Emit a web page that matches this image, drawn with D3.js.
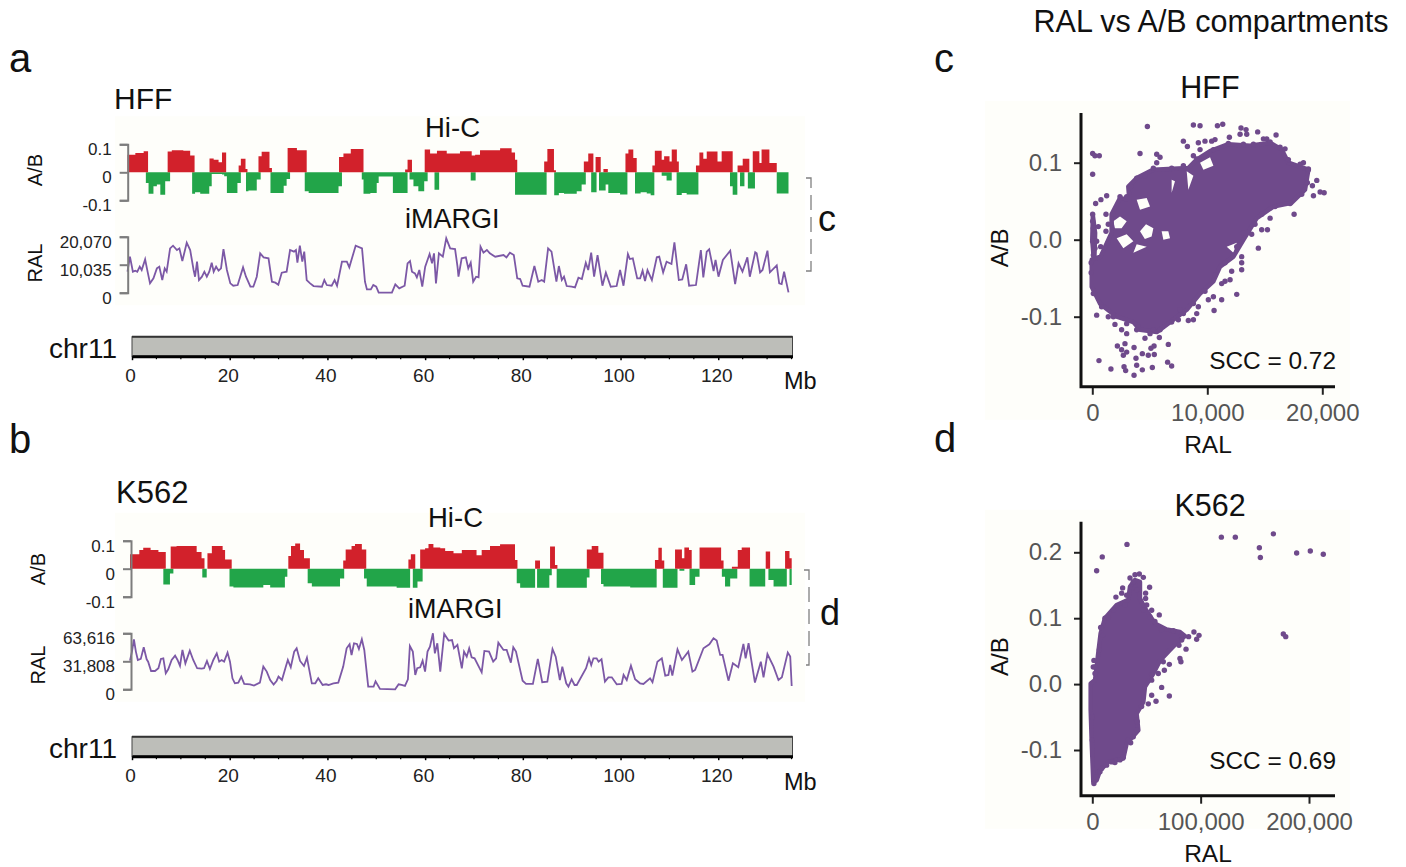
<!DOCTYPE html>
<html>
<head>
<meta charset="utf-8">
<script src="https://cdn.jsdelivr.net/npm/d3@7"></script>
<style>
    html, body { margin: 0; padding: 0; background: #ffffff; }
    svg { display: block; font-family: "Liberation Sans", sans-serif; }
</style>
</head>
<body>
<div id="chart"></div>
<script>
// Values. Hi-C tracks are step series: each value holds until the next edge.
var chrTicks = [0, 20, 40, 60, 80, 100, 120];
var chrMinorTicks = [5, 10, 15, 25, 30, 35, 45, 50, 55, 65, 70, 75, 85, 90, 95, 105, 110, 115, 125, 130, 135];
var abTicks = [-0.1, 0, 0.1];

var hffRedMb = [0, 1.6, 3.3, 4.2, 8.2, 9.05, 11.4, 12.8, 13.7, 16.75, 17.6, 18.6, 19.3, 20.15, 22.7, 23.15, 24.1, 24.5, 26.75, 27.4, 29.0, 29.5, 32.7, 34.6, 36.6, 43.2, 44.1, 45.6, 48.2, 56.7, 57.2, 58.1, 60.7, 61.8, 63.2, 65.2, 67.9, 70.3, 71.0, 72.0, 76.1, 78.45, 79.15, 79.6, 85.1, 85.75, 87.1, 87.5, 93.2, 94.1, 95.15, 95.6, 96.65, 97.2, 98.1, 101.7, 102.3, 103.3, 104.0, 107.2, 107.7, 109.1, 109.6, 110.7, 111.15, 112.2, 112.6, 116.1, 116.8, 117.6, 118.3, 120.5, 121.35, 123.6, 124.6, 125.65, 127.0, 127.7, 129.05, 129.5, 131.1, 132.6];
var hffRedAb = [.063, .069, .075, 0, .074, .079, .077, .060, 0, .049, .045, .036, .071, 0, .024, .048, .012, 0, .057, .073, .015, 0, .087, .079, 0, .055, .067, .083, 0, .010, .045, 0, .081, .067, .077, .067, .075, .060, .063, .079, .086, .071, .045, 0, .039, .083, .007, 0, .039, .067, 0, .055, 0, .012, 0, .067, .081, .051, 0, .024, .077, .045, .057, .039, .081, .039, 0, .024, .071, .048, .074, .039, .075, 0, .024, .048, 0, .075, .033, .081, .033, 0];
var hffGreenMb = [3.75, 4.3, 5.3, 6.0, 6.7, 7.7, 8.7, 13.2, 13.8, 14.85, 16.7, 17.2, 19.3, 19.75, 20.3, 22.45, 23.15, 24.2, 24.7, 26.4, 27.2, 29.2, 31.9, 32.5, 33.2, 36.2, 37.0, 43.1, 43.8, 47.85, 48.2, 49.6, 50.9, 51.3, 54.2, 57.2, 57.6, 58.4, 59.4, 60.6, 61.3, 62.7, 63.65, 70.1, 71.1, 79.15, 85.6, 87.15, 88.1, 89.15, 91.75, 92.75, 93.6, 94.7, 95.8, 96.3, 97.65, 98.2, 100.6, 102.1, 103.65, 104.8, 106.05, 106.85, 107.6, 109.1, 110.1, 111.15, 112.15, 113.2, 114.2, 116.6, 123.05, 123.6, 124.55, 125.1, 126.0, 126.7, 128.15, 132.6, 135];
var hffGreenAb = [-.038, -.077, -.050, -.044, -.080, -.032, 0, -.077, -.071, -.077, -.050, -.006, -.008, -.014, -.074, -.038, 0, -.068, -.065, -.026, 0, -.074, -.048, -.024, 0, -.068, -.074, -.050, 0, -.026, -.077, -.074, -.038, -.015, -.074, 0, -.026, -.050, -.068, -.032, 0, -.062, 0, -.029, 0, -.080, 0, -.082, -.074, -.077, -.068, -.044, 0, -.071, 0, -.065, -.044, -.074, -.079, 0, -.076, -.071, -.076, -.082, 0, -.012, -.029, 0, -.081, -.074, -.079, 0, -.050, -.080, 0, -.050, 0, -.058, 0, -.076, 0];

var k562RedMb = [0, 1.9, 2.7, 4.2, 5.8, 7.3, 8.3, 9.5, 13.6, 14.6, 15.2, 15.8, 16.7, 18.9, 19.4, 20.75, 32.3, 32.85, 33.7, 34.7, 35.5, 36.7, 43.5, 44.0, 45.2, 45.9, 47.3, 48.2, 56.8, 57.3, 58.2, 59.2, 60.2, 60.9, 61.9, 63.3, 64.3, 66.0, 67.7, 70.7, 71.75, 73.45, 75.5, 78.55, 79.05, 82.65, 83.65, 85.7, 86.7, 87.2, 93.2, 94.2, 95.55, 96.6, 107.1, 107.8, 108.5, 109.0, 111.2, 112.6, 113.1, 114.05, 114.6, 116.2, 120.6, 121.1, 122.8, 124.0, 124.8, 126.5, 129.7, 130.6, 133.65, 134.55, 135];
var k562RedAb = [.052, .067, .075, .067, .060, 0, .079, .081, .060, .037, 0, .055, .081, .067, .033, 0, .045, .081, .090, .067, .037, 0, .029, .069, .081, .088, .069, 0, .033, .052, 0, .069, .073, .088, .076, .073, .063, .055, .067, .048, .067, .081, .087, .031, 0, .029, 0, .079, .013, 0, .069, .081, .057, 0, .031, .075, .029, 0, .069, .037, .076, .067, 0, .076, .029, 0, .007, .067, .076, 0, .061, 0, .063, .037, 0];
var k562GreenMb = [6.8, 8.15, 8.85, 14.75, 15.65, 20.3, 21.1, 27.2, 28.6, 31.6, 32.1, 36.25, 37.1, 42.85, 43.7, 47.75, 48.3, 54.4, 57.15, 57.7, 58.65, 59.7, 78.9, 79.6, 82.65, 83.05, 85.55, 86.05, 87.05, 93.2, 93.75, 96.1, 96.6, 102.05, 107.45, 108.7, 111.7, 112.1, 113.1, 114.15, 115.3, 116.2, 120.75, 121.4, 122.45, 123.9, 126.4, 129.6, 130.25, 131.3, 134.0, 134.55, 135];
var k562GreenAb = [-.056, -.017, 0, -.031, 0, -.064, -.067, -.058, -.067, -.029, 0, -.052, -.064, -.035, 0, -.035, -.064, -.068, 0, -.068, -.046, 0, -.052, -.068, 0, -.068, -.023, 0, -.068, -.031, 0, -.055, -.064, -.067, 0, -.068, 0, -.007, 0, -.058, -.029, 0, -.029, -.064, -.035, 0, -.064, 0, -.040, -.064, 0, -.058, 0];

var hffRalTicks = [0, 10035, 20070];
var hffRalMb = [0, .5, 1.1, 1.6, 2, 2.5, 2.9, 3.6, 4.1, 4.6, 5.3, 6, 6.5, 7.1, 7.6, 8, 8.7, 9.3, 10.1, 10.6, 11.2, 12.1, 12.8, 13.5, 13.8, 14.2, 14.6, 15.2, 15.7, 16.2, 16.7, 17.2, 17.6, 18.1, 18.6, 19.1, 19.6, 20.3, 21, 21.6, 22.5, 23.6, 24.2, 25.1, 25.7, 26.4, 27.1, 27.8, 28.8, 29.5, 30.2, 30.8, 31.5, 32.5, 33.2, 34, 34.4, 34.7, 35.2, 35.7, 36.1, 36.6, 37.3, 38, 39.7, 40.2, 40.7, 41.7, 42.3, 42.8, 43.8, 44.8, 45.3, 46.6, 47.9, 48.5, 48.9, 49.7, 50.2, 50.8, 51.3, 54, 54.7, 55.5, 56.6, 57.2, 57.7, 58.1, 58.7, 59.1, 59.6, 60.2, 60.8, 61.7, 62.2, 62.6, 63, 63.6, 64.4, 65.1, 65.9, 66.9, 67.4, 67.6, 68.25, 69.1, 69.6, 70.1, 70.6, 71.2, 71.7, 72.1, 72.7, 73.4, 74, 75.1, 76.8, 77.4, 78.1, 78.9, 79.6, 80.2, 80.7, 82.1, 83.1, 83.9, 84.6, 85.1, 85.9, 86.6, 87.6, 88.1, 88.7, 89.15, 89.7, 90.7, 91.4, 92.1, 92.8, 93.6, 94.1, 94.7, 95.3, 96, 97, 97.7, 98.7, 99.9, 100.6, 101.3, 102.2, 102.6, 103.2, 104.1, 104.7, 105.2, 105.7, 106.2, 107.1, 108.1, 108.6, 109.4, 110.1, 111.1, 111.7, 112.6, 113.3, 114.1, 114.7, 116.1, 117.1, 117.6, 118.3, 118.8, 119.7, 120.1, 120.7, 121.6, 123.1, 124.1, 124.8, 125.6, 126.6, 127.1, 128.2, 128.5, 129.2, 129.7, 130.7, 131.2, 132.6, 133.1, 133.6, 134.1, 135];
var hffRalVal = [7530, 12910, 7530, 7890, 7530, 9320, 8130, 11950, 7530, 3350, 5140, 8720, 9320, 4540, 8720, 7530, 15890, 16850, 15300, 15890, 11350, 17930, 15300, 8130, 5740, 11110, 4540, 5740, 7530, 5740, 7530, 10760, 7530, 9320, 7890, 8720, 15650, 8130, 3350, 2510, 2750, 9080, 5740, 2150, 2150, 5740, 14100, 12670, 12310, 3940, 3590, 2870, 7170, 7530, 15300, 14700, 15300, 10760, 16850, 11110, 14700, 4540, 3350, 2390, 2150, 4540, 2750, 2510, 4540, 2510, 11110, 11110, 9080, 16850, 15890, 3940, 1200, 1200, 2750, 2150, 0, 0, 2990, 1550, 2510, 10520, 11350, 7530, 6930, 5500, 8130, 2150, 9320, 13860, 10520, 14100, 3350, 14100, 12910, 19480, 15890, 15650, 9320, 5740, 12310, 12670, 8720, 10760, 3940, 5740, 5500, 16490, 14340, 15300, 14100, 12910, 13500, 12670, 14340, 13500, 5140, 4900, 2510, 2150, 9560, 3940, 4540, 3940, 15890, 14700, 3940, 9560, 4540, 5740, 2390, 2150, 1910, 5380, 4900, 10760, 8130, 14340, 5740, 13500, 2510, 7170, 2150, 2390, 8130, 2510, 13860, 12070, 12310, 5140, 5140, 7890, 4180, 8130, 4540, 12670, 12910, 7290, 11110, 10280, 18050, 4540, 4780, 10160, 2510, 2750, 15300, 5500, 14700, 15540, 7770, 11710, 5740, 11710, 15060, 3110, 10520, 7530, 12670, 5740, 14460, 14100, 7290, 8130, 15060, 7290, 9800, 3350, 3110, 7530, 120];

var k562RalTicks = [0, 31808, 63616];
var k562RalMb = [0, .4, .8, 1.2, 1.6, 2.2, 2.8, 3.4, 3.7, 4.3, 5.1, 5.8, 6.3, 6.8, 7.3, 7.8, 8.5, 9.2, 9.7, 10.2, 10.7, 11.3, 12.2, 12.9, 13.7, 14.6, 15.1, 15.7, 16.3, 17, 17.7, 18.2, 18.7, 19.2, 19.9, 20.4, 20.9, 21.4, 22.1, 22.7, 23.3, 24.5, 25.3, 26.5, 27.2, 27.9, 28.6, 29.3, 29.9, 30.3, 31, 31.8, 32.2, 32.8, 33.5, 34, 34.7, 35.5, 36.1, 37.1, 37.8, 38.4, 39.3, 40, 40.5, 41.5, 42.5, 43.5, 44.2, 44.8, 45.2, 45.7, 46.3, 46.7, 47.3, 47.8, 48.6, 49.7, 50.1, 51, 54.1, 54.8, 55.4, 56.1, 56.7, 57.1, 57.7, 58.2, 58.6, 59.2, 59.7, 60.2, 60.7, 61.2, 61.8, 62.2, 62.7, 63.3, 64.1, 65, 65.7, 66.1, 66.8, 67.7, 68.15, 68.7, 69.2, 69.7, 70.3, 71.75, 72.3, 73.25, 74.1, 74.7, 75.15, 76.2, 76.85, 77.7, 78.2, 78.75, 80.1, 80.8, 82.2, 83.2, 84.1, 85.15, 86.2, 86.85, 87.7, 88.2, 89, 89.45, 90.1, 90.7, 91.15, 93.05, 93.65, 94.1, 94.55, 95.2, 95.6, 96.2, 96.9, 97.6, 98.3, 99.3, 100.3, 100.7, 101.35, 102.2, 103.05, 104.05, 104.75, 106.1, 106.6, 107.6, 108.5, 109.2, 109.85, 110.2, 110.65, 111.7, 112.6, 113.9, 114.75, 115.3, 117, 118.2, 119.05, 119.7, 120.4, 120.9, 122.1, 123, 124.1, 125.15, 125.6, 126.2, 127.5, 128.7, 129.25, 130.05, 131.3, 132.3, 133, 134.2, 134.7, 135];
var k562RalVal = [32600, 42800, 56800, 42800, 33300, 34500, 47700, 34100, 31400, 20800, 20800, 23900, 34500, 35200, 18200, 22700, 33300, 38200, 33300, 26500, 44700, 29500, 43900, 33300, 23900, 23500, 23900, 32200, 23100, 33300, 40900, 31400, 33300, 31400, 41700, 31400, 12500, 6800, 7600, 14400, 6100, 5700, 4200, 7600, 25800, 20100, 10600, 5300, 9500, 14400, 10600, 25800, 33300, 25000, 42800, 46600, 32200, 26500, 36000, 6800, 6800, 12500, 4900, 5700, 4900, 6800, 7600, 25800, 46600, 51100, 39000, 52300, 51500, 45800, 56800, 44700, 3000, 3000, 9100, 400, 0, 5700, 4900, 3800, 11400, 49200, 42800, 16300, 23900, 25000, 32600, 20100, 42800, 48500, 63600, 40900, 52300, 20100, 62900, 55300, 56000, 46600, 50400, 23900, 42800, 37100, 46600, 36400, 35200, 19300, 43600, 42800, 31400, 35200, 53000, 44700, 44700, 30300, 47700, 42800, 9800, 6100, 6100, 34500, 8000, 8700, 45800, 37100, 10600, 25800, 6800, 3000, 11400, 4900, 4900, 23900, 35200, 27600, 35200, 35200, 31400, 34100, 8700, 13600, 13600, 5700, 6100, 16300, 10600, 26900, 11400, 6800, 6100, 12500, 8000, 31400, 35200, 15500, 16300, 27600, 15500, 45400, 33300, 42800, 20100, 22000, 46600, 51100, 57900, 55300, 39000, 39000, 9800, 29500, 25000, 51500, 35200, 52300, 7600, 31400, 13600, 40100, 25800, 10600, 13600, 41700, 37100, 3800];

// Scatter c: separate points, plus the outline of the solid part (ring 0) and its gaps (rings 1+)
var hffScatterXTicks = [0, 10000, 20000];
var hffScatterYTicks = [-0.1, 0, 0.1];
var hffRing = [0,0,0,0,0,0,0,0,0,0,0,0,0,0,0,0,0,0,0,0,0,0,0,0,0,0,0,0,0,0,0,0,0,0,0,0, 1,1,1,1,1, 2,2,2,2,2, 3,3,3,3, 4,4,4,4, 5,5,5,5, 6,6,6, 7,7,7, 8,8,8, 9,9,9,9, 10,10,10, 11,11,11,11,11,11];
var hffDenseRal = [-50, 725, 1680, 1680, 2410, 3220, 3130, 3860, 5310, 7050, 8350, 9080, 10240, 11830, 13720, 15460, 16470, 17050, 18790, 18500, 17340, 15750, 14300, 13140, 12270, 11110, 10530, 9370, 8210, 6760, 5600, 4150, 3570, 2120, 670, -50, 4150, 4670, 5310, 5160, 4570, 1830, 2410, 2990, 2550, 1970, 2120, 2990, 3570, 2700, 3860, 4730, 5020, 4150, 6030, 6610, 6760, 6180, 3860, 4730, 3570, 6900, 7190, 6900, 8210, 8790, 8350, 9370, 10240, 10530, 9660, 11690, 12560, 12270, -140, 230, 440, 380, -60, -200];
var hffDenseAb = [-.026, -.022, .009, .033, .054, .052, .069, .080, .091, .092, .093, .104, .115, .124, .122, .126, .117, .100, .091, .065, .048, .043, .028, 0, -.022, -.035, -.054, -.070, -.091, -.107, -.120, -.117, -.107, -.100, -.083, -.061, .011, .020, .015, .004, .001, .024, .030, .024, .015, .015, .002, .007, -.002, -.011, .052, .054, .043, .039, .011, .011, .002, 0, -.006, -.009, -.017, .078, .076, .061, .089, .083, .065, .100, .107, .096, .091, -.009, -.004, -.017, .035, .033, .009, -.022, -.026, 0];
var hffPointRal = [4790, 8790, 9370, 10880, 11340, 12930, 13370, 13430, 12850, 14380, 15980, 14880, 15170, 11920, 10670, 10380, 7920, 8270, 9220, 9800, 8790, 5600, 4150, 5890, 5600, 30, 230, 610, 30, 290, 750, 1250, 1190, 30, 30, 90, 150, 30, 230, 90, 520, 1390, 380, 730, 1190, 1390, 19230, 19520, 19810, 20160, 19140, 18360, 18790, 16760, 17550, 15460, 14730, 15230, 14440, 13860, 12990, 12990, 12990, 12120, 11980, 11540, 11250, 12560, 11250, 10530, 10590, 10090, 9220, 9080, 8790, 8350, 7630, 7480, 380, 1390, 1970, 2550, 2990, 4000, 5310, 5830, 4580, 6610, 5370, 5100, 4870, 5390, 3630, 2990, 2180, 2550, 2700, 580, 1620, 2760, 2900, 3630, 3860, 3800, 4350, 4350, 5220, 6550, 6900, 2840,
    1830, 2410, 2990, 3340, 3860, 4580, 5310, 6900, 7920, 9080, 9370, 10530, 11830, 13140, 14010, 15460, 16330, 17050, 18070, 18790, 18700, 18210, 17200, 15890, 14730, 14150, 13140, 12560, 11540, 10670, 9800, 8790, 7920, 6900, 5890, 5020, 3860, 2990, 1830, 810, 90, -100, -100];
var hffPointAb = [.147, .149, .148, .148, .150, .145, .143, .137, .137, .140, .136, .131, .131, .133, .130, .128, .128, .121, .126, .128, .109, .111, .112, .107, .100, .112, .109, .109, .085, .047, .052, .057, .033, .033, .024, .015, .007, -.002, -.011, -.020, .017, .020, -.002, -.009, .011, -.004, .057, .077, .062, .061, .070, .100, .092, .118, .033, .028, .013, .013, -.011, .007, -.022, -.030, -.039, -.041, -.052, -.054, -.057, -.071, -.078, -.074, -.092, -.078, -.087, -.096, -.104, -.105, -.091, -.104, -.098, -.100, -.110, -.117, -.122, -.113, -.117, -.127, -.128, -.136, -.138, -.141, -.150, -.149, -.140, -.146, -.138, -.143, -.150, -.157, -.168, -.165, -.170, -.176, -.163, -.154, -.148, -.169, -.166, -.159, -.164, -.135,
    .033, .056, .056, .069, .080, .083, .093, .093, .096, .105, .117, .117, .125, .124, .124, .127, .120, .104, .098, .091, .074, .059, .047, .043, .033, .020, .009, -.009, -.030, -.046, -.067, -.083, -.096, -.107, -.117, -.122, -.117, -.109, -.100, -.087, -.070, -.043, -.030];

// Scatter d
var k562ScatterXTicks = [0, 100000, 200000];
var k562ScatterYTicks = [-0.1, 0, 0.1, 0.2];
var k562DenseRal = [920, -500, -1500, -1500, 2500, 5500, 7700, 11700, 22500, 33200, 34800, 39400, 44000, 44000, 48600, 57800, 68600, 80900, 85500, 77800, 71700, 62500, 56300, 48600, 47100, 40900, 42500, 31700, 28600, 14800, 7100, 4000];
var k562DenseAb = [-.148, -.090, -.039, .001, .006, .047, .077, .100, .120, .128, .148, .158, .155, .130, .115, .092, .083, .079, .073, .062, .052, .036, .016, -.004, -.027, -.045, -.070, -.090, -.113, -.118, -.131, -.146];
var k562PointRal = [119100, 132000, 154200, 155100, 167100, 188600, 201200, 213200, 176300, 178500, 32000, 9200, 4000, 1500, 900, 2500, 34800, 39400, 43400, 47100, 28000, 27100, 21800, 52900, 49200, 49200, 50200, 54800, 61800, 37800, 40900, 31700, 93800, 98500, 96300, 88900, 82500, 80000, 86500, 80900, 81800, 71100, 66500, 60900, 54800, 64000, 71100, 58800, 51700, 54800, 45500, 40900, 40900, 37800, 35400, 28600, 20900, 13200, 7100, 1500,
    7700, 9500, 6500, 2500, 11700, 14800, 19400, 30200, 47100, 53200, 57800, 64000, 74800, 82500, 65500, 54800, 47100, 41500, 33200, 25500, 17800, 8600, 3400, 0, 0];
var k562PointAb = [.223, .223, .207, .192, .228, .199, .202, .197, .076, .072, .212, .193, .172, .036, .026, .016, .161, .166, .167, .162, .146, .138, .132, .147, .138, .130, .120, .112, .105, .155, .143, .135, .079, .074, .068, .072, .074, .059, .053, .039, .034, .030, .021, .016, .014, -.005, -.018, -.026, -.030, -.017, -.034, -.055, -.070, -.080, -.089, -.111, -.119, -.123, -.133, -.151,
    .086, .074, .052, .026, .100, .101, .112, .120, .112, .102, .095, .082, .081, .067, .034, .006, -.012, -.057, -.085, -.115, -.118, -.128, -.141, -.085, -.050];

var red = "#d2212b", green = "#22a549", purple = "#7c58a6", dotPurple = "#6f4a8b";
var axisGray = "#7d7d7d", cream = "#fefefa";

var svg = d3.select("#chart").append("svg").attr("width", 1406).attr("height", 867);
svg.append("rect").attr("width", 1406).attr("height", 867).attr("fill", "#ffffff");

function label(text, x, y, size, opts) {
    opts = opts || {};
    var t = svg.append("text").attr("x", x).attr("y", y)
        .attr("font-size", size)
        .attr("fill", opts.fill || "#111111")
        .attr("text-anchor", opts.anchor || "start")
        .text(text);
    if (opts.rotate) {
        t.attr("transform", "rotate(-90 " + x + " " + y + ")").attr("text-anchor", "middle");
    }
    return t;
}

function zip(xs, ys) {
    return xs.map(function (d, i) { return [d, ys[i]]; });
}

function drawSteps(x, y, mb, ab, color) {
    var area = d3.area()
        .curve(d3.curveStepAfter)
        .x(function (d) { return x(d[0]); })
        .y0(y(0))
        .y1(function (d) { return y(d[1]); });
    svg.append("path").attr("d", area(zip(mb, ab))).attr("fill", color);
}

function styleTrackAxis(g, labelDy) {
    g.selectAll(".domain").attr("stroke", axisGray).attr("stroke-width", 2);
    g.selectAll(".tick line").attr("stroke", axisGray).attr("stroke-width", 2);
    g.selectAll("text").attr("font-size", 17).attr("fill", "#222222").attr("dy", labelDy);
}

function drawTrackPanel(p) {
    svg.append("rect").attr("x", 115).attr("y", p.abTop - 28).attr("width", 690)
        .attr("height", 189).attr("fill", cream);

    var x = d3.scaleLinear().domain([0, 135]).range(p.trackRange);

    // Hi-C A/B
    var yAb = d3.scaleLinear().domain([-0.1, 0.1]).range([p.abTop + 56, p.abTop]);
    drawSteps(x, yAb, p.greenMb, p.greenAb, green);
    drawSteps(x, yAb, p.redMb, p.redAb, red);
    var abAxis = svg.append("g").attr("transform", "translate(" + p.axisX + ",0)")
        .call(d3.axisLeft(yAb).tickValues(abTicks).tickSize(8).tickSizeOuter(8).tickPadding(8)
            .tickFormat(function (d) { return String(d); }));
    styleTrackAxis(abAxis, "0.62em");

    // iMARGI RAL
    var yRal = d3.scaleLinear().domain([0, p.ralTicks[2]]).range([p.ralTop + 56, p.ralTop]);
    var line = d3.line()
        .x(function (d) { return x(d[0]); })
        .y(function (d) { return yRal(d[1]); });
    svg.append("path").attr("d", line(zip(p.ralMb, p.ralVal)))
        .attr("fill", "none").attr("stroke", purple).attr("stroke-width", 1.8);
    var ralAxis = svg.append("g").attr("transform", "translate(" + p.axisX + ",0)")
        .call(d3.axisLeft(yRal).tickValues(p.ralTicks).tickSize(8).tickSizeOuter(8).tickPadding(8)
            .tickFormat(d3.format(",")));
    styleTrackAxis(ralAxis, "0.62em");

    // Chromosome bar and its axis
    var xChr = d3.scaleLinear().domain([0, 135.2]).range([132, 792.5]);
    svg.append("rect").attr("x", 132).attr("y", p.barTop).attr("width", 660.5).attr("height", 19.5)
        .attr("fill", "#bdbeb9").attr("stroke", "#444444").attr("stroke-width", 1);
    svg.append("line").attr("x1", 132).attr("x2", 792.5).attr("y1", p.barTop).attr("y2", p.barTop)
        .attr("stroke", "#333333").attr("stroke-width", 2);
    var chrAxis = svg.append("g").attr("transform", "translate(0," + (p.barTop + 19.5) + ")")
        .call(d3.axisBottom(xChr).tickValues(chrTicks).tickSize(4).tickSizeOuter(0).tickPadding(8)
            .tickFormat(function (d) { return String(d); }));
    chrAxis.selectAll(".domain").attr("stroke", "#000000").attr("stroke-width", 3);
    chrAxis.selectAll(".tick line").attr("stroke", "#000000").attr("stroke-width", 1.5);
    chrAxis.selectAll("text").attr("font-size", 19).attr("fill", "#222222").attr("dx", -2);
    chrAxis.selectAll(".minor").data(chrMinorTicks).enter().append("line")
        .attr("x1", function (d) { return xChr(d); })
        .attr("x2", function (d) { return xChr(d); })
        .attr("y1", 0).attr("y2", 3)
        .attr("stroke", "#000000").attr("stroke-width", 1.2);

    // Bracket pointing to the scatter panel
    svg.append("path")
        .attr("d", "M" + (p.bracketX - 5) + "," + p.bracketTop + "H" + p.bracketX + "V" + p.bracketBottom + "H" + (p.bracketX - 5))
        .attr("fill", "none").attr("stroke", "#808080").attr("stroke-width", 1.3)
        .attr("stroke-dasharray", "15 7");

    label(p.name, p.nameX, p.nameY, p.nameSize);
    label("Hi-C", p.hicX, p.hicY, 27.5);
    label("iMARGI", p.imargiX, p.imargiY, 27);
    label("A/B", p.sideX, p.abLabelY, 20, { rotate: true });
    label("RAL", p.sideX, p.ralLabelY, 20, { rotate: true });
    label("chr11", 49, p.chrY, 28);
    label("Mb", 784, p.mbY, 23.5);
    label(p.bracketLetter, p.letterX, p.letterY, 36);
}

function drawScatterPanel(p) {
    svg.append("rect").attr("x", 985).attr("y", p.top - 12).attr("width", 365)
        .attr("height", p.bottom - p.top + 45).attr("fill", cream);

    var x = d3.scaleLinear().domain([0, p.xTicks[2]]).range(p.xRange);
    var y = d3.scaleLinear().domain(p.yDomain).range(p.yRange);

    // Solid body of the cloud: rings filled even-odd so that the gaps stay open
    var line = d3.line()
        .x(function (d) { return x(d[0]); })
        .y(function (d) { return y(d[1]); });
    var rings = d3.group(p.denseRal.map(function (d, i) {
        return [d, p.denseAb[i], p.ring ? p.ring[i] : 0];
    }), function (d) { return d[2]; });
    var dense = "";
    rings.forEach(function (r) { dense += line(r) + "Z"; });
    svg.append("path").attr("d", dense).attr("fill", dotPurple).attr("fill-rule", "evenodd");
    // the outer edge gets the reach of one dot, the gaps stay as they are
    svg.append("path").attr("d", line(rings.get(0)) + "Z")
        .attr("fill", "none").attr("stroke", dotPurple)
        .attr("stroke-width", 4.5).attr("stroke-linejoin", "round");

    svg.append("g").selectAll("circle").data(zip(p.pointRal, p.pointAb)).enter().append("circle")
        .attr("cx", function (d) { return x(d[0]); })
        .attr("cy", function (d) { return y(d[1]); })
        .attr("r", 2.7)
        .attr("fill", dotPurple);

    var clipId = "clip-" + p.name;
    svg.append("clipPath").attr("id", clipId).append("rect")
        .attr("x", 980).attr("y", p.top - 30).attr("width", p.clipRight - 980).attr("height", p.bottom - p.top + 120);

    var xClip = svg.append("g").attr("clip-path", "url(#" + clipId + ")");
    var xAxis = xClip.append("g").attr("transform", "translate(0," + p.bottom + ")")
        .call(d3.axisBottom(x).tickValues(p.xTicks).tickSize(8).tickSizeOuter(0).tickPadding(9)
            .tickFormat(d3.format(",")));
    var yAxis = svg.append("g").attr("transform", "translate(1081,0)")
        .call(d3.axisLeft(y).tickValues(p.yTicks).tickSize(7).tickSizeOuter(0).tickPadding(12)
            .tickFormat(function (d) { return d3.format(".1f")(d).replace("\u2212", "-"); }));
    [xAxis, yAxis].forEach(function (g) {
        g.select(".domain").remove();
        g.selectAll(".tick line").attr("stroke", "#222222").attr("stroke-width", 2);
        g.selectAll("text").attr("font-size", 24).attr("fill", "#555555");
    });
    svg.append("path").attr("d", "M1081," + p.top + "V" + p.bottom + "H1335")
        .attr("fill", "none").attr("stroke", "#111111").attr("stroke-width", 3);

    label(p.name, 1210, p.titleY, 30.5, { anchor: "middle" });
    label("A/B", 1008, (p.top + p.bottom) / 2 - 2, 24, { rotate: true });
    label("RAL", 1208, p.ralY, 24.5, { anchor: "middle" });
    label(p.scc, 1336, p.sccY, 24.4, { anchor: "end" });
}

drawTrackPanel({
    name: "HFF", nameX: 114, nameY: 109, nameSize: 30,
    trackRange: [127.5, 788.5], axisX: 127.7,
    abTop: 144.3, ralTop: 236.7, barTop: 336.7,
    redMb: hffRedMb, redAb: hffRedAb, greenMb: hffGreenMb, greenAb: hffGreenAb,
    ralMb: hffRalMb, ralVal: hffRalVal, ralTicks: hffRalTicks,
    hicX: 425, hicY: 137, imargiX: 405, imargiY: 228,
    sideX: 42, abLabelY: 170, ralLabelY: 263,
    chrY: 358, mbY: 389,
    bracketX: 811, bracketTop: 178, bracketBottom: 271,
    bracketLetter: "c", letterX: 818, letterY: 231
});
drawTrackPanel({
    name: "K562", nameX: 116, nameY: 503, nameSize: 31,
    trackRange: [130, 791.7], axisX: 131,
    abTop: 540.7, ralTop: 633.3, barTop: 736.7,
    redMb: k562RedMb, redAb: k562RedAb, greenMb: k562GreenMb, greenAb: k562GreenAb,
    ralMb: k562RalMb, ralVal: k562RalVal, ralTicks: k562RalTicks,
    hicX: 428, hicY: 527, imargiX: 408, imargiY: 618,
    sideX: 45, abLabelY: 569, ralLabelY: 665,
    chrY: 758, mbY: 790,
    bracketX: 809, bracketTop: 570, bracketBottom: 665,
    bracketLetter: "d", letterX: 820, letterY: 625
});

drawScatterPanel({
    name: "HFF", scc: "SCC = 0.72",
    top: 113, bottom: 386.7, clipRight: 1400,
    xTicks: hffScatterXTicks, yTicks: hffScatterYTicks,
    xRange: [1092.3, 1322.3], yDomain: [-0.1, 0.1], yRange: [316.7, 162.7],
    ring: hffRing, denseRal: hffDenseRal, denseAb: hffDenseAb,
    pointRal: hffPointRal, pointAb: hffPointAb,
    titleY: 98, ralY: 453, sccY: 369
});
drawScatterPanel({
    name: "K562", scc: "SCC = 0.69",
    top: 521.7, bottom: 795.7, clipRight: 1353,
    xTicks: k562ScatterXTicks, yTicks: k562ScatterYTicks,
    xRange: [1092.3, 1309], yDomain: [-0.1, 0.2], yRange: [750, 552.3],
    denseRal: k562DenseRal, denseAb: k562DenseAb,
    pointRal: k562PointRal, pointAb: k562PointAb,
    titleY: 516, ralY: 862, sccY: 769
});

label("a", 9, 72, 40);
label("b", 9, 453, 40);
label("c", 934, 72, 40);
label("d", 934, 452, 40);
label("RAL vs A/B compartments", 1211, 32, 30.5, { anchor: "middle" });
</script>
</body>
</html>
